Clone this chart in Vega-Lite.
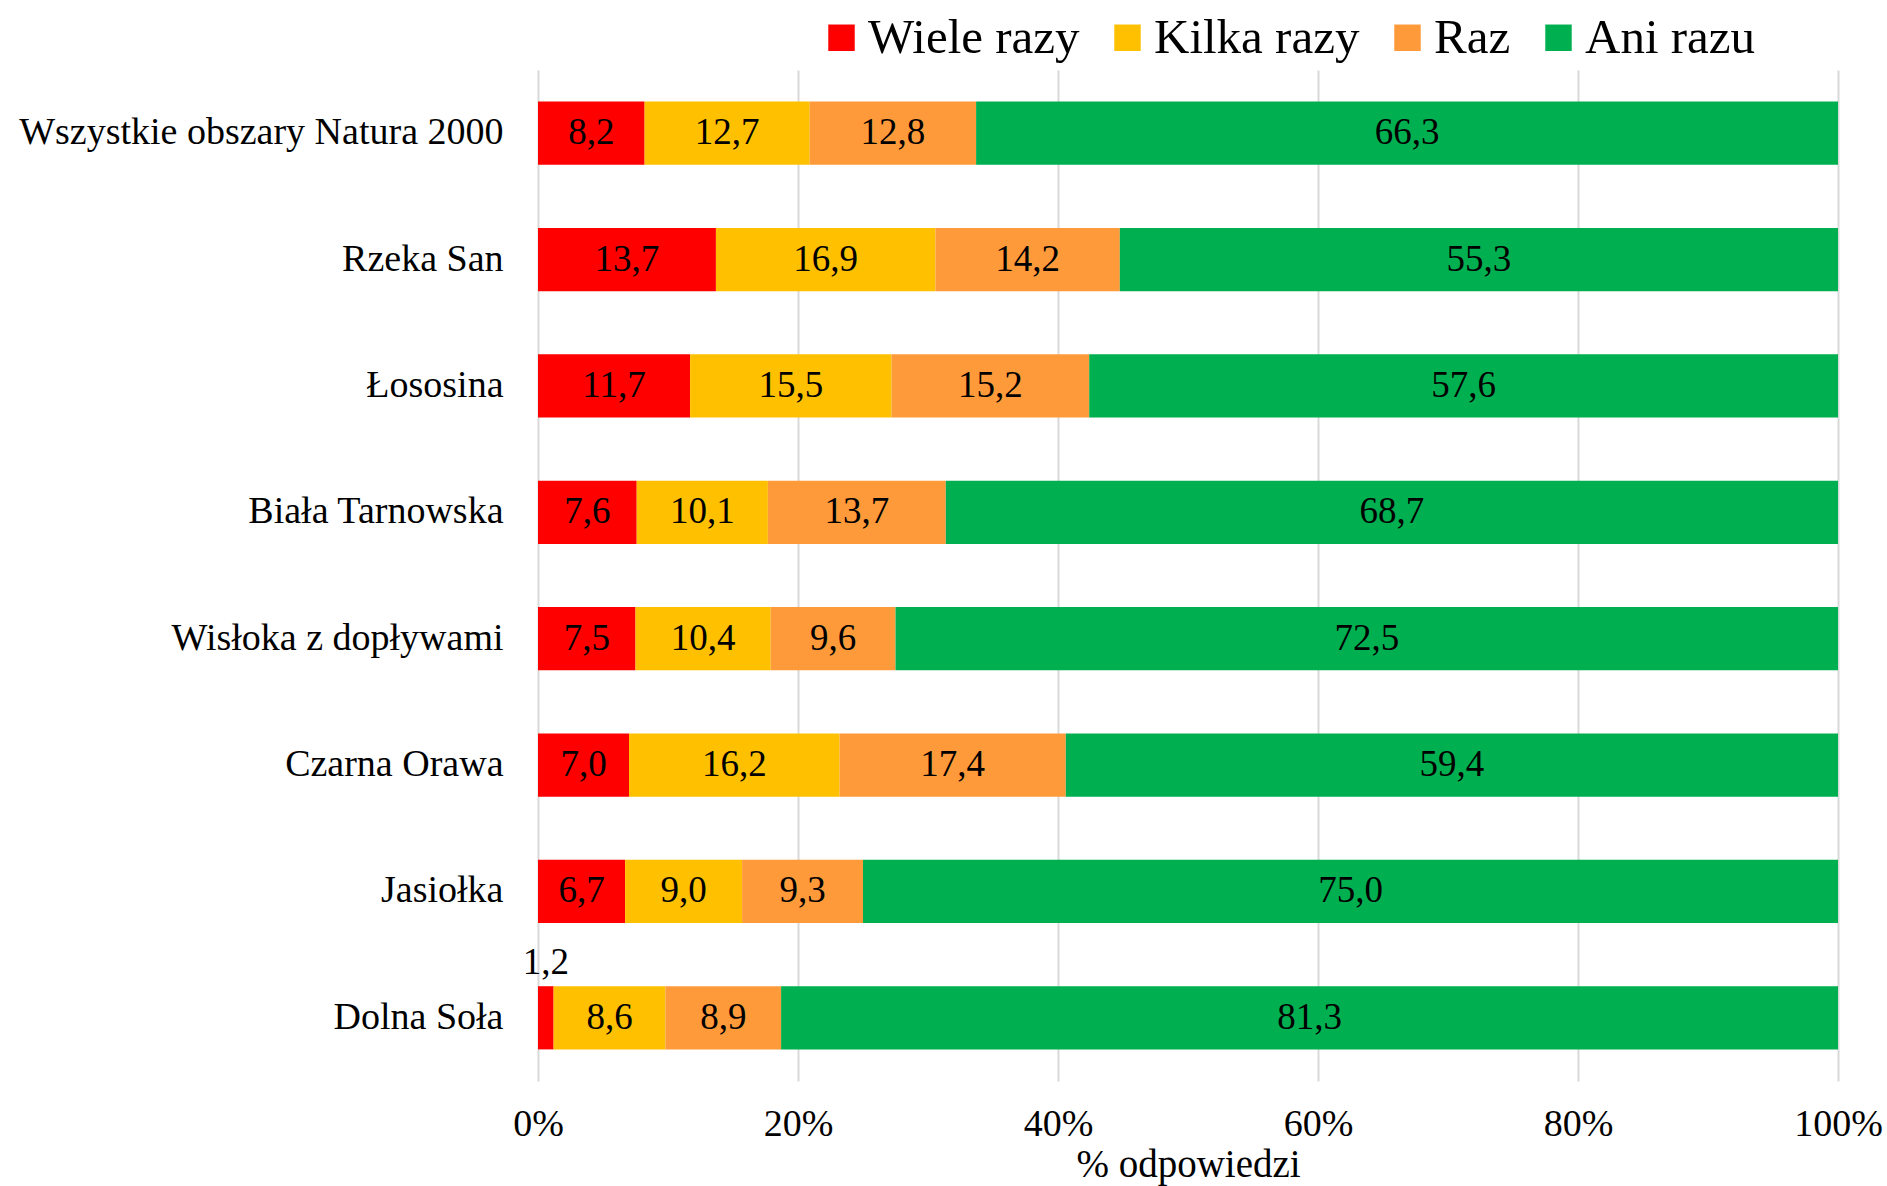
{
  "$schema": "https://vega.github.io/schema/vega-lite/v6.json",
  "width": 1300,
  "height": 1011,
  "padding": {"left": 18, "top": 13, "right": 5, "bottom": 5},
  "background": "white",
  "config": {
    "font": "Liberation Serif",
    "view": {"stroke": null},
    "locale": {"number": {"decimal": ",", "thousands": " ", "grouping": [3], "currency": ["", " zł"]}}
  },
  "data": {
    "values": [
      {"obszar": "Wszystkie obszary Natura 2000", "odp": "Wiele razy", "k": 1, "v": 8.2},
      {"obszar": "Wszystkie obszary Natura 2000", "odp": "Kilka razy", "k": 2, "v": 12.7},
      {"obszar": "Wszystkie obszary Natura 2000", "odp": "Raz", "k": 3, "v": 12.8},
      {"obszar": "Wszystkie obszary Natura 2000", "odp": "Ani razu", "k": 4, "v": 66.3},
      {"obszar": "Rzeka San", "odp": "Wiele razy", "k": 1, "v": 13.7},
      {"obszar": "Rzeka San", "odp": "Kilka razy", "k": 2, "v": 16.9},
      {"obszar": "Rzeka San", "odp": "Raz", "k": 3, "v": 14.2},
      {"obszar": "Rzeka San", "odp": "Ani razu", "k": 4, "v": 55.3},
      {"obszar": "Łososina", "odp": "Wiele razy", "k": 1, "v": 11.7},
      {"obszar": "Łososina", "odp": "Kilka razy", "k": 2, "v": 15.5},
      {"obszar": "Łososina", "odp": "Raz", "k": 3, "v": 15.2},
      {"obszar": "Łososina", "odp": "Ani razu", "k": 4, "v": 57.6},
      {"obszar": "Biała Tarnowska", "odp": "Wiele razy", "k": 1, "v": 7.6},
      {"obszar": "Biała Tarnowska", "odp": "Kilka razy", "k": 2, "v": 10.1},
      {"obszar": "Biała Tarnowska", "odp": "Raz", "k": 3, "v": 13.7},
      {"obszar": "Biała Tarnowska", "odp": "Ani razu", "k": 4, "v": 68.7},
      {"obszar": "Wisłoka z dopływami", "odp": "Wiele razy", "k": 1, "v": 7.5},
      {"obszar": "Wisłoka z dopływami", "odp": "Kilka razy", "k": 2, "v": 10.4},
      {"obszar": "Wisłoka z dopływami", "odp": "Raz", "k": 3, "v": 9.6},
      {"obszar": "Wisłoka z dopływami", "odp": "Ani razu", "k": 4, "v": 72.5},
      {"obszar": "Czarna Orawa", "odp": "Wiele razy", "k": 1, "v": 7.0},
      {"obszar": "Czarna Orawa", "odp": "Kilka razy", "k": 2, "v": 16.2},
      {"obszar": "Czarna Orawa", "odp": "Raz", "k": 3, "v": 17.4},
      {"obszar": "Czarna Orawa", "odp": "Ani razu", "k": 4, "v": 59.4},
      {"obszar": "Jasiołka", "odp": "Wiele razy", "k": 1, "v": 6.7},
      {"obszar": "Jasiołka", "odp": "Kilka razy", "k": 2, "v": 9.0},
      {"obszar": "Jasiołka", "odp": "Raz", "k": 3, "v": 9.3},
      {"obszar": "Jasiołka", "odp": "Ani razu", "k": 4, "v": 75.0},
      {"obszar": "Dolna Soła", "odp": "Wiele razy", "k": 1, "v": 1.2},
      {"obszar": "Dolna Soła", "odp": "Kilka razy", "k": 2, "v": 8.6},
      {"obszar": "Dolna Soła", "odp": "Raz", "k": 3, "v": 8.9},
      {"obszar": "Dolna Soła", "odp": "Ani razu", "k": 4, "v": 81.3}
    ]
  },
  "encoding": {
    "y": {
      "field": "obszar", "type": "nominal", "sort": null,
      "scale": {"paddingInner": 0.5, "paddingOuter": 0.25},
      "axis": {"title": null, "ticks": false, "domain": false, "labelFontSize": 38, "labelColor": "black", "labelPadding": 35, "labelLimit": 0}
    },
    "x": {
      "field": "v", "type": "quantitative", "stack": "normalize",
      "scale": {"domain": [0, 1], "nice": false},
      "axis": {
        "values": [0, 0.2, 0.4, 0.6, 0.8, 1], "format": ".0%",
        "title": "% odpowiedzi", "titleFontSize": 39, "titleFontWeight": "normal", "titleColor": "black", "titlePadding": 2,
        "labelFontSize": 38, "labelColor": "black", "labelPadding": 24, "ticks": false, "domain": false,
        "grid": true, "gridColor": "#D9D9D9", "gridWidth": 2, "labelFlush": false
      }
    },
    "order": {"field": "k", "type": "quantitative"}
  },
  "layer": [
    {
      "mark": {"type": "bar"},
      "encoding": {
        "color": {
          "field": "odp", "type": "nominal",
          "scale": {"domain": ["Wiele razy", "Kilka razy", "Raz", "Ani razu"], "range": ["#FF0000", "#FFC000", "#FF9A3A", "#00B050"]},
          "legend": {
            "title": null, "orient": "none", "direction": "horizontal", "legendX": 279, "legendY": -57,
            "labelFontSize": 49, "labelColor": "black", "symbolType": "square", "symbolSize": 700,
            "symbolStrokeWidth": 0, "labelOffset": 2, "columnPadding": 23, "labelLimit": 0
          }
        }
      }
    },
    {
      "mark": {"type": "text", "fontSize": 37, "color": "black", "baseline": "middle", "align": "center"},
      "encoding": {
        "x": {"field": "v", "type": "quantitative", "stack": "normalize", "bandPosition": 0.5},
        "text": {"condition": {"test": "datum.v < 2", "value": ""}, "field": "v", "type": "quantitative", "format": ".1f"}
      }
    },
    {
      "mark": {"type": "text", "fontSize": 37, "color": "black", "baseline": "middle", "align": "center", "dy": -55},
      "encoding": {
        "x": {"field": "v", "type": "quantitative", "stack": "normalize", "bandPosition": 0.5},
        "text": {"condition": {"test": "datum.v >= 2", "value": ""}, "field": "v", "type": "quantitative", "format": ".1f"}
      }
    }
  ]
}
